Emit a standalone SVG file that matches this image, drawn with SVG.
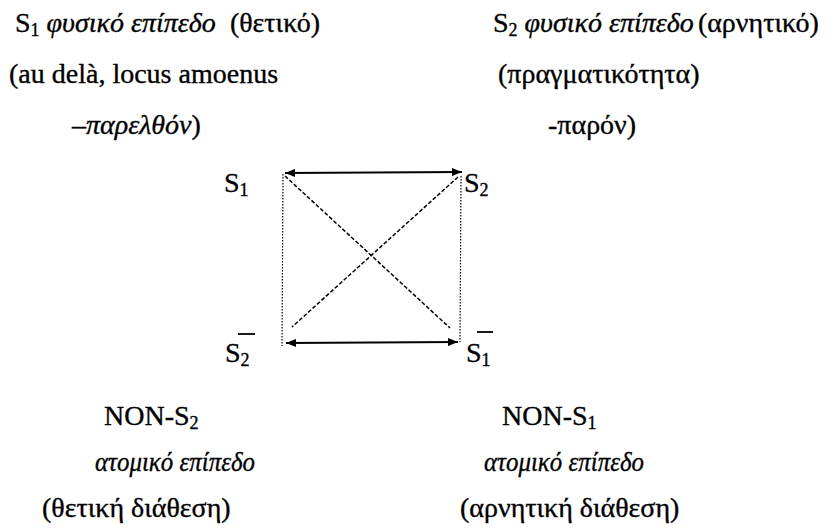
<svg xmlns="http://www.w3.org/2000/svg" width="837" height="531" viewBox="0 0 837 531">
<style>
text{font-family:"Liberation Serif","Times New Roman",serif;font-size:28px;fill:#000;stroke:#000;stroke-width:0.35}
.i{font-style:italic}
.sub{font-size:18px}
.arr{stroke:#000;stroke-width:2;fill:none}
.dot{stroke:#000;stroke-width:1.2;stroke-dasharray:1.5 1.5;fill:none}
.dash{stroke:#000;stroke-width:1.5;stroke-dasharray:4 2;fill:none}
.bar{stroke:#000;stroke-width:1.8}
</style>
<defs>
<marker id="ah" viewBox="0 0 10 8" refX="10" refY="4" markerWidth="10" markerHeight="8" markerUnits="userSpaceOnUse" orient="auto-start-reverse">
<path d="M0,0 L10,4 L0,8 Z" fill="#000"/>
</marker>
</defs>
<g id="top-left">
<text x="15" y="32">S<tspan class="sub" dy="4">1</tspan><tspan dy="-4"> </tspan><tspan class="i">φυσικό επίπεδο</tspan><tspan dx="14">(θετικό)</tspan></text>
<text x="9" y="83">(au delà, locus amoenus</text>
<text x="72" y="134">–<tspan class="i">παρελθόν</tspan>)</text>
</g>
<g id="top-right">
<text x="493" y="32">S<tspan class="sub" dy="4">2</tspan><tspan dy="-4"> </tspan><tspan class="i">φυσικό επίπεδο</tspan><tspan dx="4">(αρνητικό)</tspan></text>
<text x="498" y="83">(πραγματικότητα)</text>
<text x="548" y="134">-παρόν)</text>
</g>
<g id="node-S1"><text x="224" y="192">S<tspan class="sub" dy="4">1</tspan></text></g>
<g id="node-S2"><text x="464" y="192">S<tspan class="sub" dy="4">2</tspan></text></g>
<g id="node-notS2"><text x="225" y="362">S<tspan class="sub" dy="4">2</tspan></text><line class="bar" x1="238" y1="334" x2="255" y2="334"/></g>
<g id="node-notS1"><text x="466" y="362">S<tspan class="sub" dy="4">1</tspan></text><line class="bar" x1="477" y1="332" x2="493" y2="332"/></g>
<g id="connectors">
<line class="arr" x1="285" y1="173" x2="462" y2="172" marker-start="url(#ah)" marker-end="url(#ah)"/>
<line class="arr" x1="286" y1="343" x2="458" y2="342" marker-start="url(#ah)" marker-end="url(#ah)"/>
<line class="dot" x1="283" y1="174" x2="282" y2="346"/>
<line class="dot" x1="461" y1="176" x2="460" y2="342"/>
<line class="dash" x1="285" y1="176" x2="450" y2="328"/>
<line class="dash" x1="458" y1="177" x2="292" y2="327"/>
</g>
<g id="bottom-left">
<text x="104" y="425">NON-S<tspan class="sub" dy="4">2</tspan></text>
<text class="i" x="95" y="471" textLength="160" lengthAdjust="spacingAndGlyphs">ατομικό επίπεδο</text>
<text x="42" y="517">(θετική διάθεση)</text>
</g>
<g id="bottom-right">
<text x="502" y="425">NON-S<tspan class="sub" dy="4">1</tspan></text>
<text class="i" x="484" y="471" textLength="160" lengthAdjust="spacingAndGlyphs">ατομικό επίπεδο</text>
<text x="460" y="517">(αρνητική διάθεση)</text>
</g>
</svg>
